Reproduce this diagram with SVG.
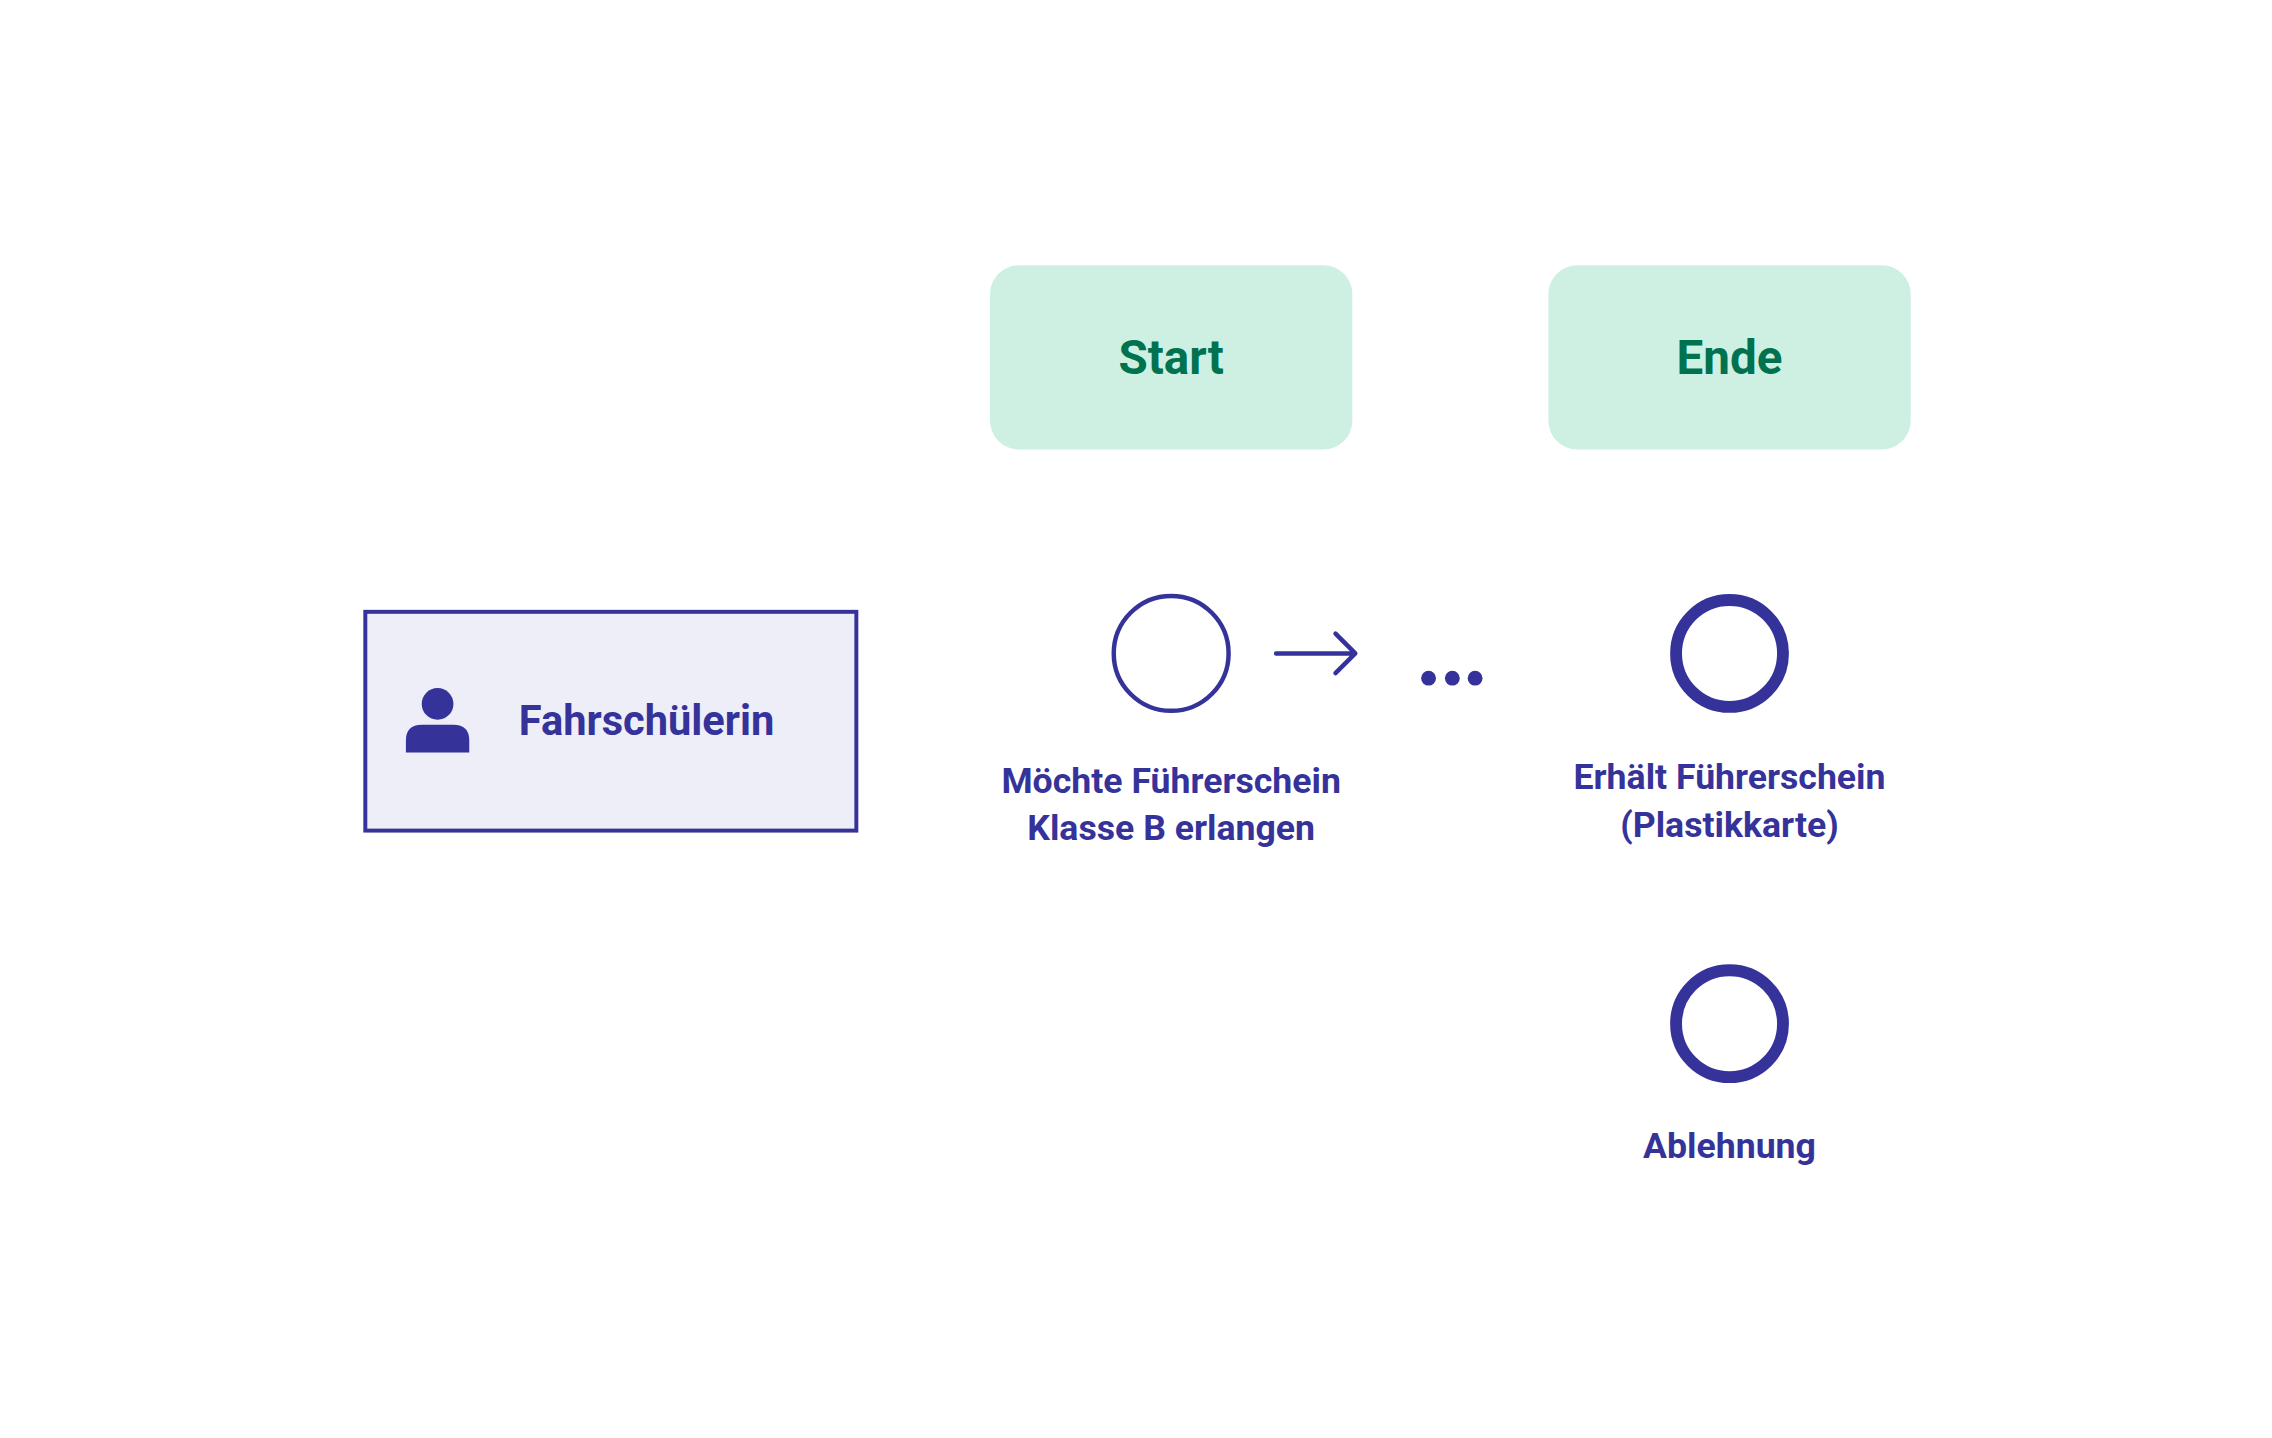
<svg xmlns="http://www.w3.org/2000/svg" width="2272" height="1438" viewBox="0 0 2272 1438">
<style>
.t{font-family:Roboto,"Liberation Sans",sans-serif;font-weight:700;fill:#35339a;text-anchor:middle}
.h{font-family:Roboto,"Liberation Sans",sans-serif;font-weight:700;fill:#007250;font-size:48px;text-anchor:middle}
.lane{fill:#cdf0e3}
</style>
<rect width="2272" height="1438" fill="#fff"/>
<g transform="scale(0.99)">
<g id="start-header"><rect class="lane" x="1000" y="268" width="366" height="186" rx="29"/><text class="h" x="1183" y="378">Start</text></g>
<g id="ende-header"><rect class="lane" x="1564" y="268" width="366" height="186" rx="29"/><text class="h" x="1747" y="378">Ende</text></g>
<g id="actor"><rect x="369" y="618" width="496" height="221" fill="#edeef8" stroke="#35339a" stroke-width="4"/>
<circle cx="442" cy="711" r="16" fill="#35339a"/><path d="M410 760 V748 Q410 732 426 732 H458 Q474 732 474 748 V760 Z" fill="#35339a"/>
<text class="t" x="524" y="742" font-size="42" style="text-anchor:start">Fahrschülerin</text></g>
<g id="start-event"><circle cx="1183" cy="660" r="58" fill="none" stroke="#35339a" stroke-width="4.5"/>
<text class="t" font-size="36" x="1183" y="801">Möchte Führerschein</text><text class="t" font-size="36" x="1183" y="849">Klasse B erlangen</text></g>
<g id="end-event-1"><circle cx="1747" cy="660" r="54" fill="none" stroke="#35339a" stroke-width="12"/>
<text class="t" font-size="36" x="1747" y="797">Erhält Führerschein</text><text class="t" font-size="36" x="1747" y="845">(Plastikkarte)</text></g>
<g id="end-event-2"><circle cx="1747" cy="1034" r="54" fill="none" stroke="#35339a" stroke-width="12"/>
<text class="t" font-size="36" x="1747" y="1170">Ablehnung</text></g>
<g id="connectors" stroke="#35339a" stroke-width="4.5" fill="none" stroke-linecap="round" stroke-linejoin="round">
<path d="M1289 660 H1367 M1349 640 L1369 660 L1349 680"/>
<g fill="#35339a" stroke="none"><circle cx="1443" cy="685" r="7.5"/><circle cx="1467" cy="685" r="7.5"/><circle cx="1490" cy="685" r="7.5"/></g>
</g>
</g>
</svg>
